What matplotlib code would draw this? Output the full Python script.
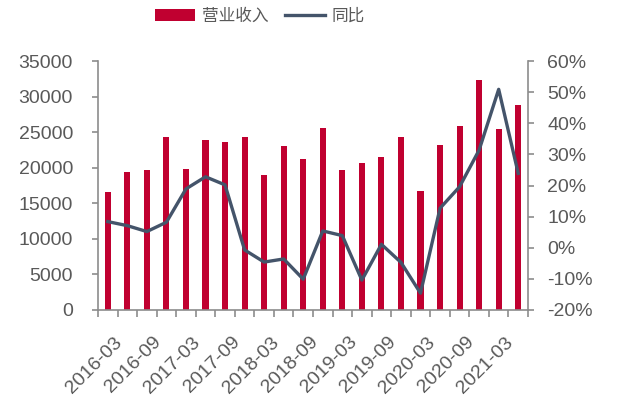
import matplotlib
matplotlib.use("Agg")
import matplotlib.pyplot as plt
import matplotlib.transforms as mtransforms
import numpy as np
from matplotlib.ticker import FuncFormatter, FixedLocator

plt.rcParams['font.family'] = ['Liberation Sans', 'Noto Sans CJK SC', 'DejaVu Sans']

quarters = ['2016-03', '2016-06', '2016-09', '2016-12',
            '2017-03', '2017-06', '2017-09', '2017-12',
            '2018-03', '2018-06', '2018-09', '2018-12',
            '2019-03', '2019-06', '2019-09', '2019-12',
            '2020-03', '2020-06', '2020-09', '2020-12',
            '2021-03', '2021-06']
revenue = [16630, 19350, 19630, 24360, 19860, 23890, 23660, 24270,
           18930, 23100, 21270, 25530, 19680, 20660, 21550, 24360,
           16770, 23190, 25860, 32330, 25390, 28810]
yoy = [8.4, 7.1, 5.2, 8.2, 18.9, 22.8, 20.2, -0.7, -4.6, -3.6, -10.1,
       5.4, 3.9, -10.4, 1.1, -4.7, -14.6, 12.7, 19.6, 31.4, 50.9, 23.9]
series_names = ['营业收入', '同比']

bar_color = '#C00030'
line_color = '#44546A'
text_color = '#595959'
axis_color = '#8C8C8C'

fig = plt.figure(figsize=(6.27, 3.99), dpi=100)
ax = fig.add_axes([98/627, 1-310/399, 430/627, 249/399])
ax2 = ax.twinx()

x = np.arange(len(quarters))
ax.bar(x, revenue, width=0.31, color=bar_color, label=series_names[0], zorder=2)
ax2.plot(x, yoy, color=line_color, lw=2.4, label=series_names[1], zorder=3)

ax.set_xlim(-0.5, len(quarters) - 0.5)
ax.set_ylim(0, 35000)
ax.set_yticks(np.arange(0, 35001, 5000))
ax2.set_ylim(-20, 60)
ax2.set_yticks(np.arange(-20, 61, 10))
ax2.yaxis.set_major_formatter(FuncFormatter(lambda v, p: f'{int(v)}%'))

# x ticks: marks between categories, labels every other quarter
ax.xaxis.set_major_locator(FixedLocator(x[::2]))
ax.set_xticklabels(quarters[::2], rotation=45, ha='right', va='top',
                   rotation_mode='anchor')
ax.xaxis.set_minor_locator(FixedLocator(np.arange(-0.5, len(quarters), 1)))
ax.tick_params(axis='x', which='major', length=0, pad=17)
ax.tick_params(axis='x', which='minor', length=5, width=1.2, color=axis_color)
offset = mtransforms.ScaledTranslation(6/100, 0, fig.dpi_scale_trans)
for lab in ax.get_xticklabels():
    lab.set_transform(lab.get_transform() + offset)

for a in (ax, ax2):
    for s in ['top']:
        a.spines[s].set_visible(False)
    a.tick_params(axis='y', length=4, width=1.2, color=axis_color,
                  labelsize=14, labelcolor=text_color)
    a.tick_params(axis='x', labelsize=14, labelcolor=text_color)
ax.spines['right'].set_visible(False)
ax2.spines['left'].set_visible(False)
ax2.spines['bottom'].set_visible(False)
ax.spines['left'].set_color(axis_color)
ax.spines['bottom'].set_color(axis_color)
ax2.spines['right'].set_color(axis_color)
for s in (ax.spines['left'], ax.spines['bottom'], ax2.spines['right']):
    s.set_linewidth(1.2)
ax.tick_params(axis='y', pad=14)
ax2.tick_params(axis='y', pad=10)

h1, l1 = ax.get_legend_handles_labels()
h2, l2 = ax2.get_legend_handles_labels()
leg = fig.legend(h1 + h2, l1 + l2, loc='center', bbox_to_anchor=(260/627, 1-16/399),
                 ncol=2, frameon=False, handlelength=2.4,
                 handletextpad=0.4, columnspacing=1.0,
                 prop={'family': ['Noto Sans CJK SC'], 'size': 12})
for t in leg.get_texts():
    t.set_color(text_color)

fig.savefig('out.png', dpi=100)
